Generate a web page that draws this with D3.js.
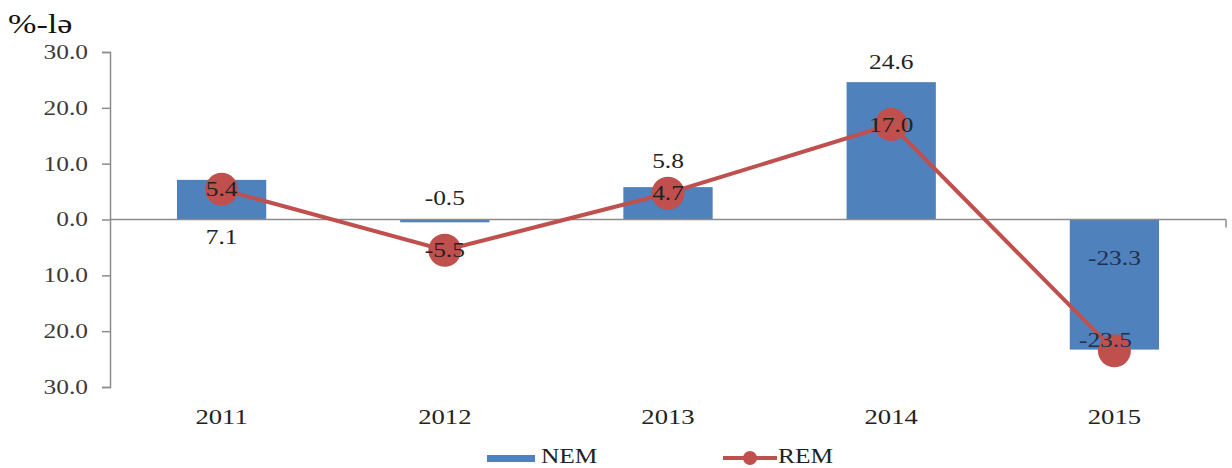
<!DOCTYPE html>
<html><head><meta charset="utf-8">
<script src="https://cdn.jsdelivr.net/npm/d3@7"></script>
<style>body{margin:0;background:#fff}svg{display:block}</style>
</head><body><svg id="c" width="1232" height="468"></svg>
<script>
const years = ["2011","2012","2013","2014","2015"];
const nem = [7.1, -0.5, 5.8, 24.6, -23.3];
const rem = [5.4, -5.5, 4.7, 17.0, -23.5];
const yTicks = [30, 20, 10, 0, -10, -20, -30];
const seriesNames = ["NEM", "REM"];
const unitLabel = "%-lə";

(function () {
const FONT = "'Liberation Serif', Tinos, 'Times New Roman', Times, 'DejaVu Serif', serif";
const SX = 1.27;
const fmt = v => d3.format(".1f")(v).replace("\u2212", "-");
const svg = d3.select("#c").attr("font-family", FONT);
const mLeft = 110, mRight = 1226, mTop = 52, mBottom = 387;
const x = d3.scaleBand().domain(years).range([mLeft, mRight]).paddingInner(0.6).paddingOuter(0.3);
const xc = d => x(d) + x.bandwidth() / 2;
const y = d3.scaleLinear().domain([-30, 30]).range([mBottom, mTop]);
const blue = "#4f81bd", red = "#c0504d";
const place = (fx, fy) => function (d, i) { return `translate(${fx(d, i)},${fy(d, i)}) scale(${SX},1)`; };

// y axis
const yAxis = d3.axisLeft(y).tickValues(yTicks).tickSize(8).tickPadding(14)
  .tickFormat(d => fmt(Math.abs(d)));
const ga = svg.append("g").attr("transform", `translate(${mLeft},0)`).call(yAxis)
  .attr("font-family", FONT).attr("font-size", 20);
ga.select(".domain").attr("stroke", "#8c8c8c").attr("stroke-width", 1.5);
ga.selectAll(".tick line").attr("stroke", "#8c8c8c").attr("stroke-width", 1.5);
ga.selectAll(".tick text").attr("fill", "#3a3a3a").attr("x", 0)
  .attr("transform", `translate(-22,0) scale(${SX},1)`);

// bars
svg.selectAll("rect.bar").data(years).enter().append("rect")
  .attr("x", d => x(d)).attr("width", x.bandwidth())
  .attr("y", (d, i) => y(Math.max(0, nem[i])))
  .attr("height", (d, i) => Math.abs(y(nem[i]) - y(0)))
  .attr("fill", blue);

// x axis at zero
svg.append("line").attr("x1", mLeft).attr("x2", mRight).attr("y1", y(0)).attr("y2", y(0))
  .attr("stroke", "#8c8c8c").attr("stroke-width", 1.5);
svg.append("line").attr("x1", mRight).attr("x2", mRight).attr("y1", y(0)).attr("y2", y(0) + 8)
  .attr("stroke", "#8c8c8c").attr("stroke-width", 1.5);

// category labels
svg.selectAll("text.cat").data(years).enter().append("text")
  .attr("transform", place(d => xc(d), () => 424)).attr("text-anchor", "middle")
  .attr("font-size", 21).attr("fill", "#222").text(d => d);

// line
const line = d3.line().x((d, i) => xc(years[i])).y(d => y(d));
svg.append("path").datum(rem).attr("d", line).attr("fill", "none")
  .attr("stroke", red).attr("stroke-width", 4);
svg.selectAll("circle.pt").data(rem).enter().append("circle")
  .attr("cx", (d, i) => xc(years[i])).attr("cy", d => y(d)).attr("r", 16.5).attr("fill", red);

// NEM labels
const nemOff = [17, -22, -26, -20, 38];
svg.selectAll("text.nl").data(nem).enter().append("text")
  .attr("transform", place((d, i) => xc(years[i]), (d, i) => (i === 0 || d < 0 ? y(0) : y(d)) + nemOff[i] + 7))
  .attr("text-anchor", "middle").attr("font-size", 20).attr("fill", (d, i) => i === 4 ? "#1f3050" : "#222")
  .text(d => fmt(d));

// REM labels
const remDx = [0, 0, 0, 0, -9], remDy = [0, 0, 0, 0, -11];
svg.selectAll("text.rl").data(rem).enter().append("text")
  .attr("transform", place((d, i) => xc(years[i]) + remDx[i], (d, i) => y(d) + remDy[i] + 7))
  .attr("text-anchor", "middle").attr("font-size", 20).attr("fill", (d, i) => i === 4 ? "#1f3050" : "#222")
  .text(d => fmt(d));

// unit label
svg.append("text").attr("transform", `translate(8,33) scale(1.22,1)`).attr("font-size", 28).attr("fill", "#111").text(unitLabel);

// legend
const lg = svg.append("g").attr("font-size", 20).attr("fill", "#222");
lg.append("rect").attr("x", 487).attr("y", 455).attr("width", 48).attr("height", 7).attr("fill", blue);
lg.append("text").attr("transform", `translate(541,463) scale(${SX},1)`).text(seriesNames[0]);
lg.append("line").attr("x1", 723).attr("x2", 777).attr("y1", 458).attr("y2", 458).attr("stroke", red).attr("stroke-width", 4);
lg.append("circle").attr("cx", 750).attr("cy", 458).attr("r", 7).attr("fill", red);
lg.append("text").attr("transform", `translate(778,463) scale(${SX},1)`).text(seriesNames[1]);
})();
</script></body></html>
